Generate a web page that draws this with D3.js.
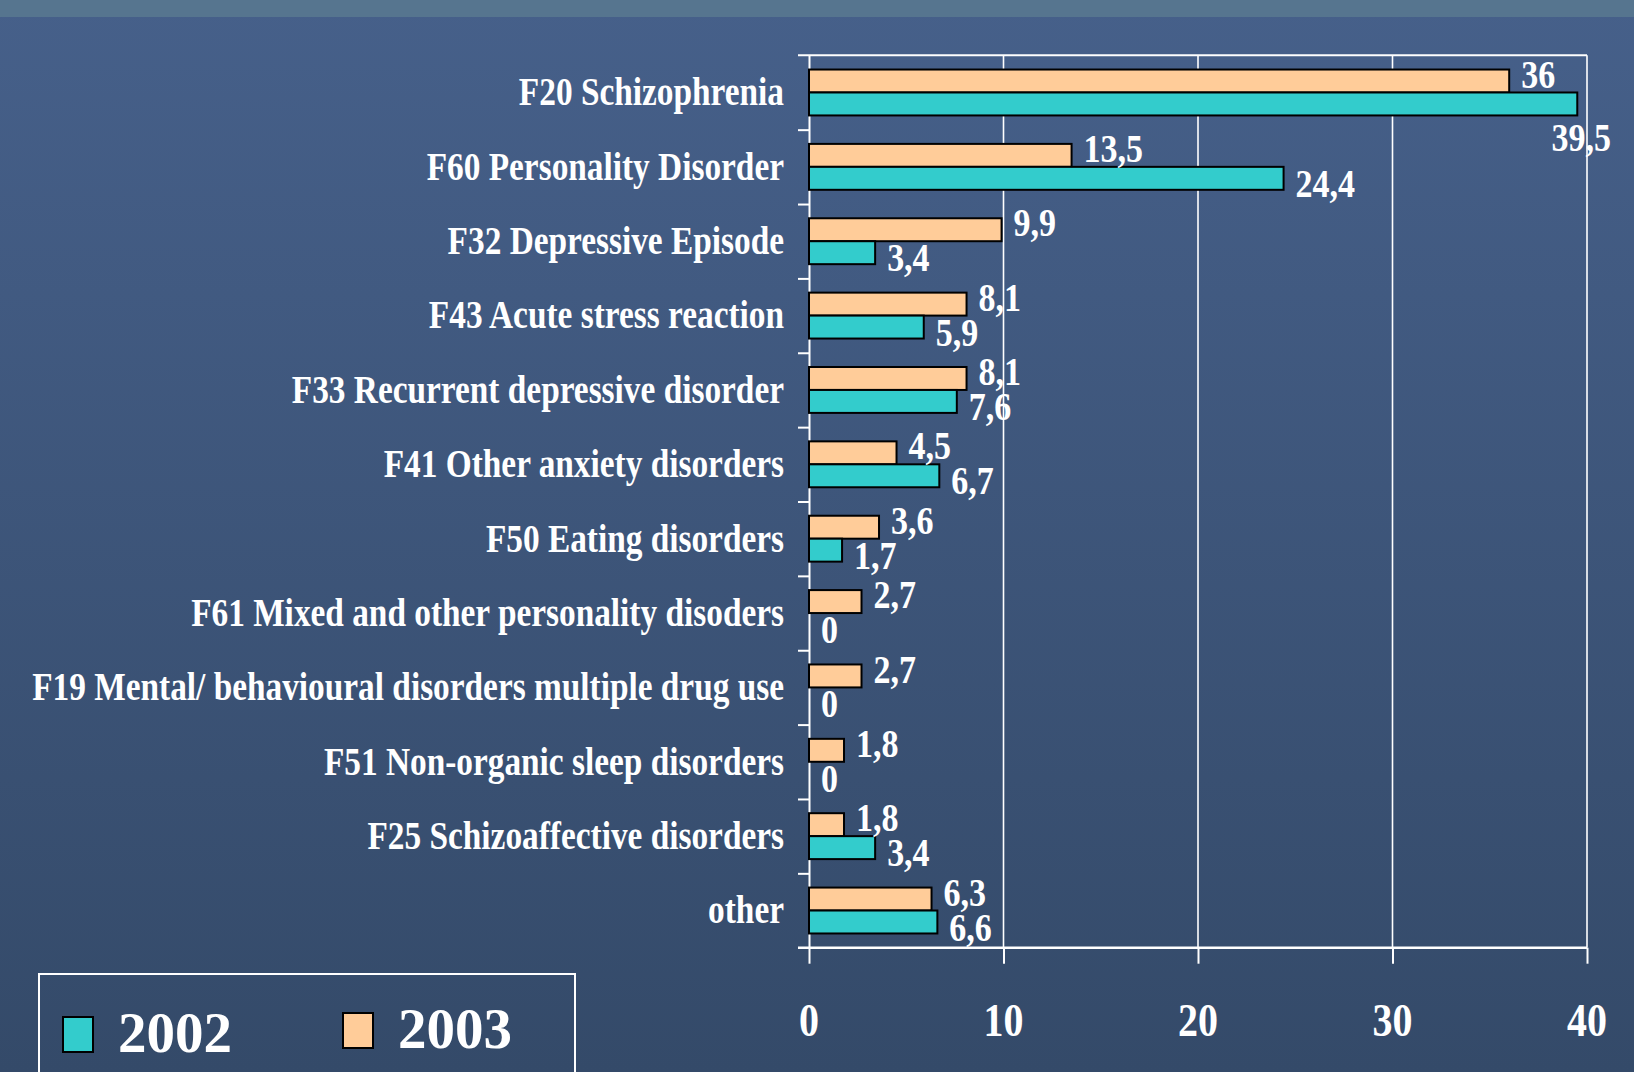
<!DOCTYPE html>
<html>
<head>
<meta charset="utf-8">
<script src="https://cdn.jsdelivr.net/npm/d3@7"></script>
<style>
html, body { margin: 0; padding: 0; overflow: hidden; background: #3d5578; }
svg { display: block; }
text { font-family: "Liberation Serif", "DejaVu Serif", serif; font-weight: bold; fill: #fff; }
</style>
</head>
<body>
<div id="chart"></div>
<script>
var categories = [
  "F20 Schizophrenia",
  "F60 Personality Disorder",
  "F32 Depressive Episode",
  "F43 Acute stress reaction",
  "F33 Recurrent depressive disorder",
  "F41 Other anxiety disorders",
  "F50 Eating disorders",
  "F61 Mixed and other personality disoders",
  "F19 Mental/ behavioural disorders multiple drug use",
  "F51 Non-organic sleep disorders",
  "F25 Schizoaffective disorders",
  "other"
];
var years = ["2003", "2002"];           // top bar, bottom bar in each group
var values2003 = [36, 13.5, 9.9, 8.1, 8.1, 4.5, 3.6, 2.7, 2.7, 1.8, 1.8, 6.3];
var values2002 = [39.5, 24.4, 3.4, 5.9, 7.6, 6.7, 1.7, 0, 0, 0, 3.4, 6.6];
var xTicks = [0, 10, 20, 30, 40];
var legendYears = ["2002", "2003"];

var W = 1634, H = 1072;
var colors = { "2002": "#33cccc", "2003": "#ffcc99" };
var seriesValues = { "2002": values2002, "2003": values2003 };

var svg = d3.select("#chart").append("svg")
    .attr("width", W)
    .attr("height", H);

// background: gradient body plus lighter strip at the top
var defs = svg.append("defs");
var grad = defs.append("linearGradient")
    .attr("id", "bg")
    .attr("x1", 0).attr("y1", 0).attr("x2", 0).attr("y2", 1);
grad.append("stop").attr("offset", "0%").attr("stop-color", "#46608a");
grad.append("stop").attr("offset", "100%").attr("stop-color", "#344a69");

svg.append("rect").attr("width", W).attr("height", H).attr("fill", "url(#bg)");
svg.append("rect").attr("width", W).attr("height", 17).attr("fill", "#56758f");

// scales
var plot = { left: 809, right: 1587, top: 55.3, bottom: 947.7 };

var x = d3.scaleLinear()
    .domain([0, 40])
    .range([plot.left, plot.right]);

var y = d3.scaleBand()
    .domain(categories)
    .range([plot.top, plot.bottom]);

var ySub = d3.scaleBand()
    .domain(years)
    .range([0, y.bandwidth()])
    .paddingOuter(0.62);

// category boundaries as a linear scale so the axis draws the ticks
var yIdx = d3.scaleLinear()
    .domain([0, categories.length])
    .range([plot.top, plot.bottom]);

// vertical grid lines
svg.append("g")
    .selectAll("line")
    .data(xTicks.slice(1))
    .join("line")
    .attr("x1", function(d) { return x(d); })
    .attr("x2", function(d) { return x(d); })
    .attr("y1", plot.top)
    .attr("y2", plot.bottom)
    .attr("stroke", "#fff")
    .attr("stroke-width", 1.6);

// top border
svg.append("line")
    .attr("x1", plot.left - 11).attr("x2", plot.right)
    .attr("y1", plot.top).attr("y2", plot.top)
    .attr("stroke", "#fff").attr("stroke-width", 2);

// left axis with category boundary ticks
var yAxis = svg.append("g")
    .attr("transform", "translate(" + plot.left + ",0)")
    .call(d3.axisLeft(yIdx)
      .tickValues(d3.range(1, categories.length))
      .tickSize(11)
      .tickSizeOuter(0)
      .tickFormat(""));
yAxis.select(".domain").attr("stroke", "#fff").attr("stroke-width", 2);
yAxis.selectAll(".tick line").attr("stroke", "#fff").attr("stroke-width", 2);

// bars
var groups = svg.append("g")
    .selectAll("g")
    .data(categories)
    .join("g")
    .attr("transform", function(d) { return "translate(0," + y(d) + ")"; });

groups.selectAll("rect")
    .data(function(d, i) {
      return years.map(function(yr) { return { year: yr, value: seriesValues[yr][i] }; });
    })
    .join("rect")
    .filter(function(d) { return d.value > 0; })
    .attr("x", x(0))
    .attr("y", function(d) { return ySub(d.year); })
    .attr("width", function(d) { return x(d.value) - x(0); })
    .attr("height", ySub.bandwidth())
    .attr("fill", function(d) { return colors[d.year]; })
    .attr("stroke", "#000")
    .attr("stroke-width", 2);

// value labels
var labelScale = 0.85;
var labelOffset = { "2003": -7, "2002": 5 };
groups.selectAll("text.val")
    .data(function(d, i) {
      return years.map(function(yr) { return { year: yr, value: seriesValues[yr][i] }; });
    })
    .join("text")
    .attr("class", "val")
    .style("font-size", "40px")
    .attr("dy", "0.34em")
    .text(function(d) { return String(d.value).replace(".", ","); })
    .each(function(d) {
      var el = d3.select(this);
      var w = this.getComputedTextLength() * labelScale;
      var bx = x(d.value);
      var cy = ySub(d.year) + ySub.bandwidth() / 2 + labelOffset[d.year];
      if (bx + 12 + w > x.range()[1] + 10) {
        // no room on the right: put it under the bar end
        el.attr("text-anchor", "middle")
          .attr("transform", "translate(" + (bx + 4) + "," + (ySub(d.year) + ySub.bandwidth() + 22) + ") scale(" + labelScale + ",1)");
      } else {
        el.attr("text-anchor", "start")
          .attr("transform", "translate(" + (bx + 12) + "," + cy + ") scale(" + labelScale + ",1)");
      }
    });

// category labels
svg.append("g")
    .selectAll("text")
    .data(categories)
    .join("text")
    .attr("text-anchor", "end")
    .attr("dy", "0.33em")
    .style("font-size", "39px")
    .attr("transform", function(d) {
      return "translate(784," + (y(d) + y.bandwidth() / 2) + ") scale(0.855,1)";
    })
    .text(function(d) { return d; });

// bottom axis
var xAxis = svg.append("g")
    .attr("transform", "translate(0," + plot.bottom + ")")
    .call(d3.axisBottom(x)
      .tickValues(xTicks)
      .tickSize(16)
      .tickSizeOuter(0)
      .tickFormat(""));
xAxis.select(".domain").remove();
xAxis.selectAll(".tick line").attr("stroke", "#fff").attr("stroke-width", 2);
svg.append("line")
    .attr("x1", plot.left - 11).attr("x2", plot.right)
    .attr("y1", plot.bottom).attr("y2", plot.bottom)
    .attr("stroke", "#fff").attr("stroke-width", 2.5);

svg.append("g")
    .selectAll("text")
    .data(xTicks)
    .join("text")
    .attr("text-anchor", "middle")
    .style("font-size", "47px")
    .attr("transform", function(d) { return "translate(" + x(d) + ",1036) scale(0.85,1)"; })
    .text(function(d) { return d; });

// legend
var legend = svg.append("g");
legend.append("rect")
    .attr("x", 39).attr("y", 974)
    .attr("width", 536).attr("height", 120)
    .attr("fill", "none")
    .attr("stroke", "#fff")
    .attr("stroke-width", 2);

var legendX = d3.scalePoint()
    .domain(legendYears)
    .range([63, 343]);

var legendItem = legend.selectAll("g")
    .data(legendYears)
    .join("g")
    .attr("transform", function(d, i) { return "translate(" + legendX(d) + "," + (i === 0 ? 1017 : 1013) + ")"; });

legendItem.append("rect")
    .attr("width", 30)
    .attr("height", 35)
    .attr("fill", function(d) { return colors[d]; })
    .attr("stroke", "#000")
    .attr("stroke-width", 2);

legendItem.append("text")
    .attr("x", 55)
    .attr("y", 35)
    .style("font-size", "57px")
    .text(function(d) { return d; });
</script>
</body>
</html>
